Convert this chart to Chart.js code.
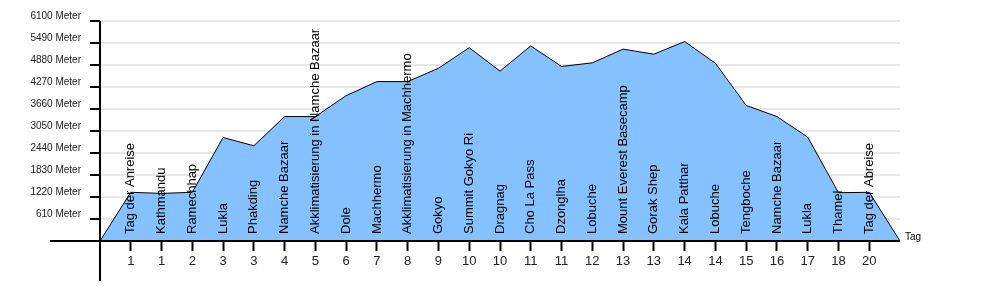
<!DOCTYPE html>
<html>
<head>
<meta charset="utf-8">
<script src="https://cdn.jsdelivr.net/npm/chart.js@4/dist/chart.umd.min.js"></script>
<style>
  body { margin: 0; background: #fff; }
  #wrap { width: 1000px; height: 300px; }
</style>
</head>
<body>
<div id="wrap"><canvas id="hoehe" width="1000" height="300"></canvas></div>
<script>
// Tag (x-Achse), Ort und Höhe in Metern
var days = ['', 1, 1, 2, 3, 3, 4, 5, 6, 7, 8, 9, 10, 10, 11, 11, 12, 13, 13, 14, 14, 15, 16, 17, 18, 20, ''];
var places = ['', 'Tag der Anreise', 'Kathmandu', 'Ramechhap', 'Lukla', 'Phakding', 'Namche Bazaar',
  'Akklimatisierung in Namche Bazaar', 'Dole', 'Machhermo', 'Akklimatisierung in Machhermo', 'Gokyo',
  'Summit Gokyo Ri', 'Dragnag', 'Cho La Pass', 'Dzonglha', 'Lobuche', 'Mount Everest Basecamp',
  'Gorak Shep', 'Kala Patthar', 'Lobuche', 'Tengboche', 'Namche Bazaar', 'Lukla', 'Thamel',
  'Tag der Abreise', ''];
var heights = [0, 1350, 1320, 1350, 2870, 2640, 3450, 3450, 4030, 4420, 4420, 4790, 5360, 4710,
  5410, 4840, 4940, 5320, 5180, 5530, 4930, 3760, 3450, 2880, 1340, 1350, 0];
var yTicks = [610, 1220, 1830, 2440, 3050, 3660, 4270, 4880, 5490, 6100];

var font = 'Arial, "Liberation Sans", sans-serif';

// Achsen, Ortsnamen und "Tag" selbst zeichnen
var axisPlugin = {
  id: 'axisPlugin',
  afterDatasetsDraw: function(chart) {
    var ctx = chart.ctx;
    var x = chart.scales.x;
    var y = chart.scales.y;
    var area = chart.chartArea;
    var y0 = y.getPixelForValue(0);

    ctx.save();
    // Ortsnamen senkrecht
    ctx.fillStyle = '#000';
    ctx.font = '13px ' + font;
    ctx.textAlign = 'left';
    ctx.textBaseline = 'middle';
    for (var i = 0; i < places.length; i++) {
      if (!places[i]) continue;
      var px = x.getPixelForValue(i);
      ctx.save();
      ctx.translate(px, y0 - 7);
      ctx.rotate(-Math.PI / 2);
      ctx.fillText(places[i], 0, 0);
      ctx.restore();
    }

    // Achsenlinien
    ctx.strokeStyle = '#000';
    ctx.lineWidth = 2;
    ctx.beginPath();
    ctx.moveTo(area.left, area.top);
    ctx.lineTo(area.left, 281);
    ctx.moveTo(50, y0);
    ctx.lineTo(area.right, y0);
    ctx.stroke();

    ctx.font = '10px ' + font;
    ctx.textBaseline = 'middle';
    ctx.fillText('Tag', area.right + 5, y0 - 4);
    ctx.restore();
  }
};

new Chart('hoehe', {
  type: 'line',
  data: {
    labels: days,
    datasets: [{
      data: heights,
      fill: 'origin',
      backgroundColor: '#86c1ff',
      borderColor: '#000',
      borderWidth: 1,
      pointRadius: 0,
      tension: 0
    }]
  },
  options: {
    responsive: false,
    animation: false,
    layout: { padding: { top: 21, right: 100, left: 0, bottom: 0 } },
    plugins: {
      legend: { display: false },
      tooltip: { enabled: false }
    },
    scales: {
      x: {
        offset: false,
        border: { display: false },
        grid: {
          drawOnChartArea: false,
          tickLength: 10,
          tickWidth: 2,
          tickColor: function(c) {
            return (c.index === 0 || c.index === days.length - 1) ? 'rgba(0,0,0,0)' : '#000';
          }
        },
        ticks: {
          autoSkip: false,
          maxRotation: 0,
          padding: 3,
          color: '#222',
          font: { family: font, size: 13 }
        },
        afterFit: function(s) { s.height = 59; }
      },
      y: {
        min: 0,
        max: 6100,
        border: { display: false },
        afterBuildTicks: function(s) {
          s.ticks = [{ value: 0 }].concat(yTicks.map(function(v) { return { value: v }; }));
        },
        grid: {
          color: '#e6e6e6',
          lineWidth: 2,
          tickLength: 10,
          tickWidth: 2,
          tickColor: function(c) { return c.tick && c.tick.value === 0 ? 'rgba(0,0,0,0)' : '#000'; }
        },
        ticks: {
          padding: 9,
          labelOffset: -5,
          color: '#222',
          font: { family: font, size: 10 },
          callback: function(v) { return v === 0 ? '' : v + ' Meter'; }
        },
        afterFit: function(s) { s.width = 100; }
      }
    }
  },
  plugins: [axisPlugin]
});
</script>
</body>
</html>
